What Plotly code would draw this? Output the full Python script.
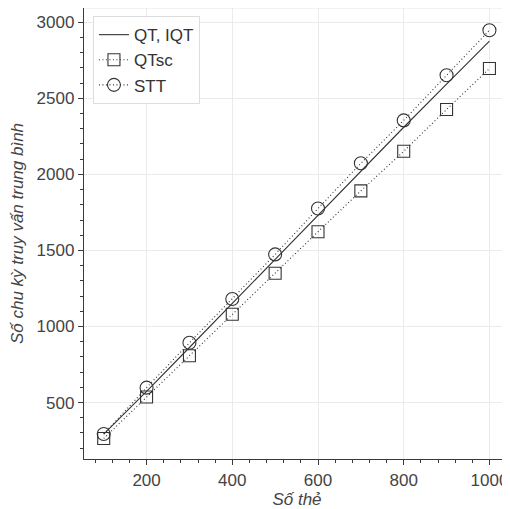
import plotly.graph_objects as go

cards = [100, 200, 300, 400, 500, 600, 700, 800, 900, 1000]
qt_iqt = [292, 573, 862, 1152, 1440, 1728, 2018, 2310, 2594, 2876]
qtsc = [264, 537, 808, 1081, 1350, 1623, 1892, 2152, 2427, 2696]
stt = [293, 598, 893, 1181, 1474, 1776, 2073, 2355, 2652, 2948]

x_ticks = [200, 400, 600, 800, 1000]
y_ticks = [500, 1000, 1500, 2000, 2500, 3000]

ink = "#333333"
font_family = "Liberation Sans, Arial, Helvetica, sans-serif"

fig = go.Figure()
fig.add_trace(go.Scatter(
    x=cards, y=qt_iqt, name="QT, IQT", mode="lines",
    line=dict(color=ink, width=1.1),
))
fig.add_trace(go.Scatter(
    x=cards, y=qtsc, name="QTsc", mode="lines+markers",
    line=dict(color=ink, width=1.1, dash="1px,2.5px"),
    marker=dict(symbol="square-open", size=12, color=ink, line=dict(width=1.1, color=ink)),
))
fig.add_trace(go.Scatter(
    x=cards, y=stt, name="STT", mode="lines+markers",
    line=dict(color=ink, width=1.1, dash="1px,2.5px"),
    marker=dict(symbol="circle-open", size=13, color=ink, line=dict(width=1.1, color=ink)),
))

axis_common = dict(
    showgrid=True, gridcolor="#ebebeb", gridwidth=1,
    zeroline=False, automargin=False,
    showline=True, linecolor="#3a3a3a", linewidth=1.3,
    ticks="outside", ticklen=5, tickwidth=1.2, tickcolor="#3a3a3a",
    tickfont=dict(family=font_family, size=17, color="#444444"),
)

fig.update_xaxes(
    **axis_common,
    range=[54, 1048], tickvals=x_ticks,
    minor=dict(dtick=40, tick0=0, ticks="outside", ticklen=3, tickwidth=1, tickcolor="#3a3a3a", showgrid=False),
    title=dict(text="Số thẻ", font=dict(family=font_family, size=17, color="#444444", style="italic"), standoff=4),
)
fig.update_yaxes(
    **axis_common,
    range=[129, 3094], tickvals=y_ticks,
    minor=dict(dtick=100, tick0=0, ticks="outside", ticklen=3, tickwidth=1, tickcolor="#3a3a3a", showgrid=False),
    title=dict(text="Số chu kỳ truy vấn trung bình", font=dict(family=font_family, size=17, color="#444444", style="italic"), standoff=8),
)

fig.add_shape(type="line", xref="paper", yref="paper", x0=0, x1=1, y0=1, y1=1,
              line=dict(color="#e6e6e6", width=1))

# the page adds an 8px body margin, so the figure is sized/offset to compensate
fig.update_layout(
    width=502, height=501,
    margin=dict(l=76, r=0, t=0, b=50),
    paper_bgcolor="white", plot_bgcolor="white",
    showlegend=True,
    legend=dict(
        x=0.021, y=0.982, xanchor="left", yanchor="top",
        bgcolor="rgba(255,255,255,0.85)", bordercolor="#dddddd", borderwidth=1,
        font=dict(family=font_family, size=17, color="#333333"),
        itemwidth=30, tracegroupgap=0,
    ),
)

fig.write_html("out.html")
